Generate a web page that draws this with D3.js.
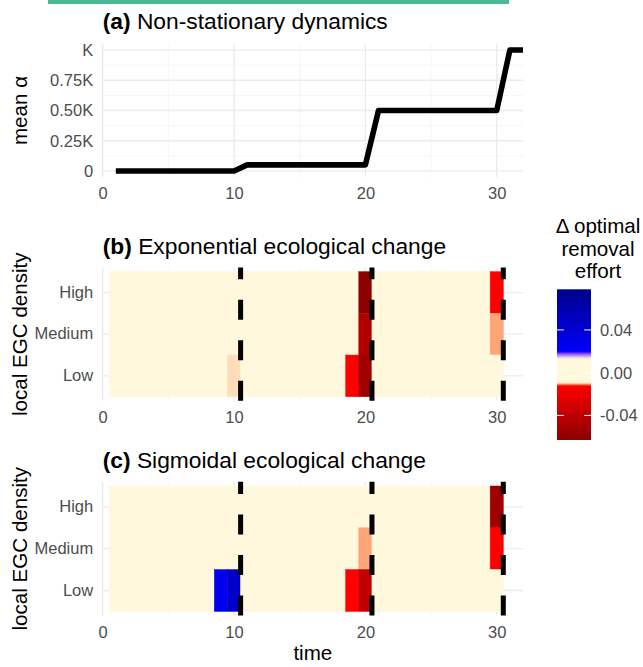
<!DOCTYPE html>
<html>
<head>
<meta charset="utf-8">
<script src="https://cdn.jsdelivr.net/npm/d3@7"></script>
<style>
  body { margin: 0; background: #fff; }
  svg { font-family: "Liberation Sans", Arial, sans-serif; }
</style>
</head>
<body>
<div id="chart"></div>
<script>
// panel (a): mean alpha through time, as a fraction of K
var alphaTime = [1,2,3,4,5,6,7,8,9,10,11,12,13,14,15,16,17,18,19,20,21,22,23,24,25,26,27,28,29,30,31,32];
var alphaMean = [0,0,0,0,0,0,0,0,0,0,0.05,0.05,0.05,0.05,0.05,0.05,0.05,0.05,0.05,0.05,
                 0.5,0.5,0.5,0.5,0.5,0.5,0.5,0.5,0.5,0.5,1,1];
var alphaTicks = [0, 0.25, 0.5, 0.75, 1];
var alphaTickLabels = ["0", "0.25K", "0.50K", "0.75K", "K"];

// panels (b) and (c): change in optimal removal effort per time step
var densityLevels = ["High", "Medium", "Low"];
var heatTime = [1,2,3,4,5,6,7,8,9,10,11,12,13,14,15,16,17,18,19,20,21,22,23,24,25,26,27,28,29,30];
var expHigh   = [0,0,0,0,0,0,0,0,0,0,0,0,0,0,0,0,0,0,0,-0.062,0,0,0,0,0,0,0,0,0,-0.013];
var expMedium = [0,0,0,0,0,0,0,0,0,0,0,0,0,0,0,0,0,0,0,-0.046,0,0,0,0,0,0,0,0,0,-0.0106];
var expLow    = [0,0,0,0,0,0,0,0,0,-0.0098,0,0,0,0,0,0,0,0,-0.013,-0.053,0,0,0,0,0,0,0,0,0,0];
var sigHigh   = [0,0,0,0,0,0,0,0,0,0,0,0,0,0,0,0,0,0,0,0,0,0,0,0,0,0,0,0,0,-0.054];
var sigMedium = [0,0,0,0,0,0,0,0,0,0,0,0,0,0,0,0,0,0,0,-0.0106,0,0,0,0,0,0,0,0,0,-0.013];
var sigLow    = [0,0,0,0,0,0,0,0,0.028,0.046,0,0,0,0,0,0,0,0,-0.013,-0.039,0,0,0,0,0,0,0,0,0,0];

var changePoints = [10.5, 20.5, 30.5];
var timeTicks = [0, 10, 20, 30];
var fillLimits = [-0.063, 0.078];
var legendTicks = [0.04, 0, -0.04];
var legendTickLabels = ["0.04", "0.00", "-0.04"];

var props = {
  width: 643,
  height: 667,
  left: 102.7,
  right: 523,
  tickSize: 16.5,
  titleSize: 22.8,
  axisTitleSize: 20.6
};

var svg = d3.select("#chart").append("svg")
  .attr("width", props.width)
  .attr("height", props.height);

svg.append("rect")
  .attr("x", 48).attr("y", 0)
  .attr("width", 461).attr("height", 4)
  .attr("fill", "#4bb898");

var x = d3.scaleLinear().domain([0, 32]).range([props.left, props.right]);

// gradient: dark red -> red -> cornsilk band -> blue -> dark blue
var fill = d3.scaleLinear()
  .domain([fillLimits[0], -0.012, -0.0094, 0.013, 0.0194, fillLimits[1]])
  .range(["#8b0000", "#ff0000", "#fff8dc", "#fff8dc", "#0000ff", "#00008b"])
  .interpolate(d3.interpolateLab)
  .clamp(true);

function midpoints(arr){
  var out = [];
  for (var i = 1; i < arr.length; i++) out.push((arr[i-1] + arr[i]) / 2);
  return out;
}

function drawXGrid(g, top, bottom){
  var minor = midpoints(timeTicks);
  g.selectAll(".x-minor").data(minor).enter().append("line")
    .attr("class", "x-minor")
    .attr("x1", function(d){ return x(d); }).attr("x2", function(d){ return x(d); })
    .attr("y1", top).attr("y2", bottom)
    .attr("stroke", "#f1f1f1").attr("stroke-width", 0.7);
  g.selectAll(".x-major").data(timeTicks).enter().append("line")
    .attr("class", "x-major")
    .attr("x1", function(d){ return x(d); }).attr("x2", function(d){ return x(d); })
    .attr("y1", top).attr("y2", bottom)
    .attr("stroke", "#ebebeb").attr("stroke-width", 1.3);
}

function drawXAxis(g, bottom){
  var ax = g.append("g")
    .attr("transform", "translate(0," + bottom + ")")
    .call(d3.axisBottom(x).tickValues(timeTicks).tickSize(0).tickPadding(10.5));
  ax.select(".domain").remove();
  ax.selectAll("text")
    .attr("fill", "#4d4d4d")
    .style("font-size", props.tickSize + "px")
    .style("font-family", "Liberation Sans, Arial, sans-serif");
}

function styleYAxis(ax){
  ax.select(".domain").remove();
  ax.selectAll("text")
    .attr("fill", "#4d4d4d")
    .style("font-size", props.tickSize + "px")
    .style("font-family", "Liberation Sans, Arial, sans-serif");
}

function drawTitle(tag, text, baseline){
  var t = svg.append("text")
    .attr("x", props.left).attr("y", baseline)
    .style("font-size", props.titleSize + "px")
    .attr("fill", "#000");
  t.append("tspan").style("font-weight", "bold").text(tag);
  t.append("tspan").text(" " + text);
}

function drawYTitle(text, cy){
  svg.append("text")
    .attr("transform", "translate(27," + cy + ") rotate(-90)")
    .attr("text-anchor", "middle")
    .style("font-size", props.axisTitleSize + "px")
    .attr("fill", "#000")
    .text(text);
}

// ---- panel (a)
var panelA = { top: 44, bottom: 177 };
var yA = d3.scaleLinear().domain([-0.05, 1.05]).range([panelA.bottom, panelA.top]);
var gA = svg.append("g");

gA.selectAll(".y-minor").data(midpoints(alphaTicks)).enter().append("line")
  .attr("class", "y-minor")
  .attr("x1", props.left).attr("x2", props.right)
  .attr("y1", function(d){ return yA(d); }).attr("y2", function(d){ return yA(d); })
  .attr("stroke", "#f1f1f1").attr("stroke-width", 0.7);
drawXGrid(gA, panelA.top, panelA.bottom);
gA.selectAll(".y-major").data(alphaTicks).enter().append("line")
  .attr("class", "y-major")
  .attr("x1", props.left).attr("x2", props.right)
  .attr("y1", function(d){ return yA(d); }).attr("y2", function(d){ return yA(d); })
  .attr("stroke", "#ebebeb").attr("stroke-width", 1.3);

var axA = gA.append("g")
  .attr("transform", "translate(" + props.left + ",0)")
  .call(d3.axisLeft(yA).tickValues(alphaTicks).tickSize(0).tickPadding(9.5)
    .tickFormat(function(d, i){ return alphaTickLabels[i]; }));
styleYAxis(axA);
drawXAxis(gA, panelA.bottom);

var alphaLine = d3.line()
  .x(function(d){ return x(d.t); })
  .y(function(d){ return yA(d.v); });

gA.append("path")
  .datum(alphaTime.map(function(t, i){ return {t: t, v: alphaMean[i]}; }))
  .attr("d", alphaLine)
  .attr("fill", "none")
  .attr("stroke", "#000")
  .attr("stroke-width", 5.6)
  .attr("stroke-linejoin", "round");

drawTitle("(a)", "Non-stationary dynamics", 29);
drawYTitle("mean \u03b1", (panelA.top + panelA.bottom) / 2);

// ---- heatmap panels
function drawHeat(panel, rows, tag, title){
  var y = d3.scaleBand().domain(densityLevels).range([panel.heatTop, panel.heatBottom]);
  var pad = y.bandwidth() * 0.1;
  var top = panel.heatTop - pad, bottom = panel.heatBottom + pad;
  var g = svg.append("g");

  drawXGrid(g, top, bottom);
  g.selectAll(".y-major").data(densityLevels).enter().append("line")
    .attr("class", "y-major")
    .attr("x1", props.left).attr("x2", props.right)
    .attr("y1", function(d){ return y(d) + y.bandwidth() / 2; })
    .attr("y2", function(d){ return y(d) + y.bandwidth() / 2; })
    .attr("stroke", "#ebebeb").attr("stroke-width", 1.3);

  var cells = [];
  densityLevels.forEach(function(level){
    rows[level].forEach(function(v, i){
      cells.push({t: heatTime[i], level: level, v: v});
    });
  });

  g.selectAll(".tile").data(cells).enter().append("rect")
    .attr("class", "tile")
    .attr("x", function(d){ return x(d.t - 0.5); })
    .attr("width", function(d){ return x(d.t + 0.5) - x(d.t - 0.5); })
    .attr("y", function(d){ return y(d.level); })
    .attr("height", y.bandwidth())
    .attr("fill", function(d){ return fill(d.v); })
    .attr("stroke", function(d){ return fill(d.v); })
    .attr("stroke-width", 0.5);

  g.selectAll(".change").data(changePoints).enter().append("line")
    .attr("class", "change")
    .attr("x1", function(d){ return x(d); }).attr("x2", function(d){ return x(d); })
    .attr("y1", bottom).attr("y2", top)
    .attr("stroke", "#000")
    .attr("stroke-width", 5)
    .attr("stroke-dasharray", "20,20.5");

  var ax = g.append("g")
    .attr("transform", "translate(" + props.left + ",0)")
    .call(d3.axisLeft(y).tickSize(0).tickPadding(9.5));
  styleYAxis(ax);
  drawXAxis(g, bottom);

  drawTitle(tag, title, panel.titleY);
  drawYTitle("local EGC density", (top + bottom) / 2);
}

drawHeat({heatTop: 271.7, heatBottom: 396.7, titleY: 254},
  {High: expHigh, Medium: expMedium, Low: expLow},
  "(b)", "Exponential ecological change");

drawHeat({heatTop: 486, heatBottom: 611.4, titleY: 468},
  {High: sigHigh, Medium: sigMedium, Low: sigLow},
  "(c)", "Sigmoidal ecological change");

svg.append("text")
  .attr("x", (props.left + props.right) / 2)
  .attr("y", 660)
  .attr("text-anchor", "middle")
  .style("font-size", props.axisTitleSize + "px")
  .attr("fill", "#000")
  .text("time");

// ---- legend
var legend = { x: 557, w: 34, top: 289.3, bottom: 440 };
var yL = d3.scaleLinear().domain(fillLimits).range([legend.bottom, legend.top]);

var grad = svg.append("defs").append("linearGradient")
  .attr("id", "fill-grad")
  .attr("x1", 0).attr("y1", 1).attr("x2", 0).attr("y2", 0);
var nStops = 120;
grad.selectAll("stop").data(d3.range(nStops + 1)).enter().append("stop")
  .attr("offset", function(i){ return i / nStops; })
  .attr("stop-color", function(i){
    return fill(fillLimits[0] + (fillLimits[1] - fillLimits[0]) * i / nStops);
  });

svg.append("rect")
  .attr("x", legend.x).attr("y", legend.top)
  .attr("width", legend.w).attr("height", legend.bottom - legend.top)
  .attr("fill", "url(#fill-grad)");

var lt = svg.append("g").selectAll(".ltick").data(legendTicks).enter().append("g");
lt.append("line")
  .attr("x1", legend.x).attr("x2", legend.x + legend.w / 5)
  .attr("y1", function(d){ return yL(d); }).attr("y2", function(d){ return yL(d); })
  .attr("stroke", "#fff").attr("stroke-width", 1);
lt.append("line")
  .attr("x1", legend.x + legend.w * 4 / 5).attr("x2", legend.x + legend.w)
  .attr("y1", function(d){ return yL(d); }).attr("y2", function(d){ return yL(d); })
  .attr("stroke", "#fff").attr("stroke-width", 1);
lt.append("text")
  .attr("x", legend.x + legend.w + 9)
  .attr("y", function(d){ return yL(d); })
  .attr("dy", "0.36em")
  .style("font-size", props.tickSize + "px")
  .attr("fill", "#4d4d4d")
  .text(function(d, i){ return legendTickLabels[i]; });

var lTitle = svg.append("text")
  .attr("text-anchor", "middle")
  .style("font-size", props.axisTitleSize + "px")
  .attr("fill", "#000");
["\u0394 optimal", "removal", "effort"].forEach(function(s, i){
  lTitle.append("tspan").attr("x", 598).attr("y", 233 + i * 22.5).text(s);
});
</script>
</body>
</html>
